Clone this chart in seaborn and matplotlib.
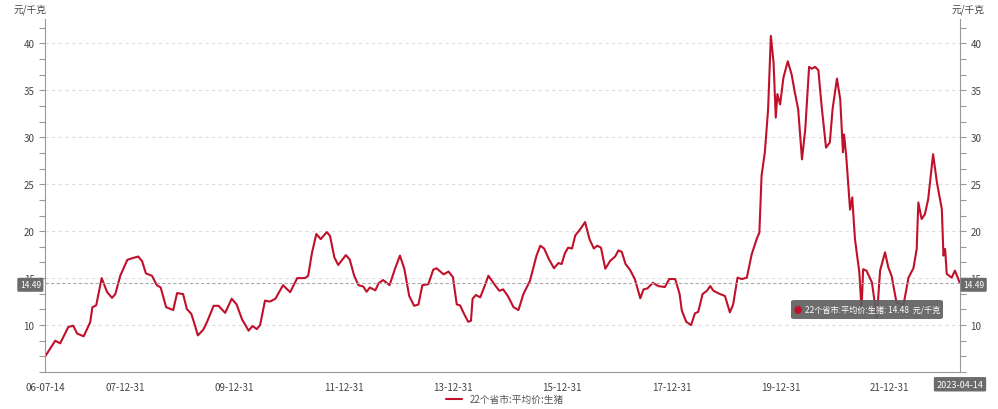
import matplotlib
matplotlib.use("Agg")
import matplotlib.pyplot as plt
import matplotlib.dates as mdates
import matplotlib.transforms as mtransforms
from matplotlib.patches import FancyBboxPatch
from matplotlib.ticker import MultipleLocator
import numpy as np
import pandas as pd
import seaborn as sns

SERIES_NAME = "22个省市:平均价:生猪"
UNIT = "元/千克"
LINE_COLOR = "#c0102a"

years = [
    2006.54, 2006.72, 2006.81, 2006.96, 2007.05, 2007.12, 2007.24, 2007.36, 2007.40, 2007.47,
    2007.57, 2007.67, 2007.76, 2007.82, 2007.91, 2008.04, 2008.12, 2008.24, 2008.31, 2008.38,
    2008.49, 2008.58, 2008.65, 2008.75, 2008.88, 2008.95, 2009.06, 2009.13, 2009.21, 2009.28,
    2009.33, 2009.43, 2009.50, 2009.62, 2009.71, 2009.83, 2009.95, 2010.04, 2010.14, 2010.26,
    2010.33, 2010.41, 2010.47, 2010.56, 2010.65, 2010.75, 2010.89, 2011.02, 2011.15, 2011.29,
    2011.35, 2011.42, 2011.50, 2011.58, 2011.69, 2011.75, 2011.83, 2011.90, 2012.04, 2012.11,
    2012.19, 2012.27, 2012.36, 2012.42, 2012.48, 2012.58, 2012.64, 2012.72, 2012.84, 2012.94,
    2013.03, 2013.11, 2013.20, 2013.29, 2013.37, 2013.44, 2013.55, 2013.64, 2013.70, 2013.83,
    2013.92, 2014.00, 2014.07, 2014.13, 2014.22, 2014.28, 2014.33, 2014.36, 2014.42, 2014.50,
    2014.57, 2014.65, 2014.77, 2014.85, 2014.92, 2015.01, 2015.11, 2015.20, 2015.29, 2015.41,
    2015.53, 2015.60, 2015.67, 2015.75, 2015.85, 2015.93, 2015.99, 2016.05, 2016.11, 2016.18,
    2016.24, 2016.33, 2016.42, 2016.50, 2016.58, 2016.64, 2016.71, 2016.79, 2016.88, 2016.97,
    2017.03, 2017.09, 2017.16, 2017.24, 2017.33, 2017.43, 2017.49, 2017.56, 2017.66, 2017.76,
    2017.88, 2017.96, 2018.07, 2018.15, 2018.19, 2018.27, 2018.36, 2018.43, 2018.49, 2018.57,
    2018.65, 2018.71, 2018.77, 2018.89, 2018.98, 2019.07, 2019.13, 2019.21, 2019.29, 2019.38,
    2019.47, 2019.56, 2019.61, 2019.65, 2019.71, 2019.77, 2019.82, 2019.87, 2019.91, 2019.94,
    2019.99, 2020.05, 2020.13, 2020.20, 2020.26, 2020.32, 2020.39, 2020.45, 2020.52, 2020.57,
    2020.63, 2020.69, 2020.75, 2020.83, 2020.90, 2020.95, 2021.03, 2021.09, 2021.14, 2021.16,
    2021.20, 2021.27, 2021.31, 2021.36, 2021.44, 2021.48, 2021.51, 2021.57, 2021.67, 2021.76,
    2021.82, 2021.91, 2021.97, 2022.03, 2022.12, 2022.25, 2022.34, 2022.43, 2022.49, 2022.52,
    2022.58, 2022.64, 2022.70, 2022.79, 2022.86, 2022.95, 2022.98, 2023.01, 2023.04, 2023.13,
    2023.19, 2023.28,
]
prices = [
    6.7, 8.33, 8.05, 9.8, 9.93, 9.1, 8.8, 10.3, 11.9, 12.1,
    15.0, 13.5, 12.9, 13.3, 15.25, 16.95, 17.1, 17.3, 16.8, 15.5,
    15.25, 14.25, 14.0, 11.9, 11.6, 13.4, 13.3, 11.7, 11.2, 9.93,
    8.9, 9.5, 10.35, 12.05, 12.05, 11.3, 12.8, 12.2, 10.6, 9.4,
    9.9, 9.57, 10.0, 12.6, 12.5, 12.8, 14.25, 13.5, 15.0, 15.0,
    15.25, 17.7, 19.7, 19.15, 19.9, 19.5, 17.2, 16.4, 17.45, 17.0,
    15.3, 14.25, 14.1, 13.55, 14.0, 13.7, 14.45, 14.8, 14.25, 16.0,
    17.4, 16.0, 13.1, 12.05, 12.2, 14.25, 14.35, 15.9, 16.05, 15.4,
    15.7, 15.1, 12.2, 12.1, 11.0, 10.35, 10.45, 12.8, 13.2, 12.95,
    14.0, 15.25, 14.25, 13.65, 13.8, 13.05, 11.9, 11.6, 13.3, 14.7,
    17.4, 18.45, 18.15, 17.1, 16.05, 16.6, 16.5, 17.65, 18.25, 18.15,
    19.55, 20.2, 20.97, 19.15, 18.15, 18.45, 18.25, 16.0, 16.85, 17.3,
    17.95, 17.8, 16.5, 15.9, 14.9, 12.85, 13.8, 13.9, 14.5, 14.15,
    14.05, 14.9, 14.9, 13.3, 11.55, 10.35, 10.0, 11.25, 11.4, 13.3,
    13.65, 14.15, 13.65, 13.3, 13.1, 11.35, 12.2, 15.05, 14.9, 15.05,
    17.55, 19.15, 19.85, 25.9, 28.4, 33.0, 40.8, 37.95, 32.1, 34.6,
    33.5, 36.35, 38.1, 36.7, 34.75, 33.0, 27.65, 30.85, 37.5, 37.3,
    37.5, 37.15, 33.3, 28.9, 29.45, 33.0, 36.25, 34.05, 28.4, 30.3,
    28.0, 22.3, 23.6, 19.15, 15.6, 11.7, 15.95, 15.8, 14.55, 10.8,
    15.8, 17.75, 16.15, 15.25, 12.4, 12.2, 15.05, 16.05, 18.1, 23.05,
    21.3, 21.8, 23.4, 28.2, 25.2, 22.35, 17.4, 18.1, 15.45, 15.05,
    15.8, 14.48,
]

start_label = "06-07-14"
end_label = "2023-04-14"
tick_labels = ["07-12-31", "09-12-31", "11-12-31", "13-12-31", "15-12-31", "17-12-31", "19-12-31", "21-12-31"]
mark_value = 14.49
tooltip_value = 14.48

sns.set_style("white")
plt.rcParams["font.family"] = ["Noto Sans CJK SC", "DejaVu Sans"]
plt.rcParams["axes.unicode_minus"] = False

dates = pd.Timestamp("2008-01-01") + pd.to_timedelta((np.array(years) - 2008.0) * 365.25, unit="D")
df = pd.DataFrame({"date": dates, "price": prices})

fig = plt.figure(figsize=(9.98, 4.10), dpi=100)
ax = fig.add_axes([45 / 998, 1 - 373 / 410, 915 / 998, (373 - 20) / 410])

sns.lineplot(data=df, x="date", y="price", ax=ax, color=LINE_COLOR, linewidth=1.5, label=SERIES_NAME)
ax.get_lines()[0].set_solid_joinstyle("round")

start = pd.Timestamp("2006-07-14")
end = pd.Timestamp("2023-04-14")
ax.set_xlim(start, end)
ax.set_ylim(5, 42.6)

# horizontal grid only
ax.yaxis.set_major_locator(MultipleLocator(5))
ax.yaxis.set_minor_locator(MultipleLocator(5 / 3))
ax.grid(axis="y", which="major", color="#dddddd", linestyle=(0, (3, 3)), linewidth=0.8)
ax.grid(axis="x", visible=False)
yticks = [v for v in range(10, 45, 5)]
ax.set_yticks(yticks)
ax.set_yticklabels([str(v) for v in yticks])

# x ticks: start + every second year end, minor ticks on the other year ends
major_dates = [start] + [pd.Timestamp(f"20{lbl[:2]}-12-31") for lbl in tick_labels]
ax.set_xticks(major_dates)
ax.set_xticklabels([start_label] + tick_labels)
ax.xaxis.set_minor_locator(mdates.YearLocator(1, month=12, day=31))

ax.spines["top"].set_visible(False)
for side in ["left", "right", "bottom"]:
    ax.spines[side].set_color("#999999")
    ax.spines[side].set_linewidth(0.8)

ax.tick_params(axis="both", which="both", colors="#999999", labelcolor="#444444", labelsize=7, width=0.8)
ax.tick_params(axis="y", which="both", left=True, right=True, labelleft=True, labelright=True, length=4)
ax.tick_params(axis="x", which="both", length=4)
ax.set_xlabel("")
ax.set_ylabel("")

# unit labels at the top of both axes
fig.text(30 / 998, 1 - 10 / 410, UNIT, ha="center", va="center", fontsize=7, color="#444444")
fig.text(968 / 998, 1 - 10 / 410, UNIT, ha="center", va="center", fontsize=7, color="#444444")

# latest value marker line and boxes
ax.axhline(mark_value, color="#aaaaaa", linestyle=(0, (3, 2)), linewidth=0.8)
blend = mtransforms.blended_transform_factory(ax.transAxes, ax.transData)
box = dict(boxstyle="round,pad=0.3,rounding_size=0.15", fc="#6b6b6b", ec="none")
ax.text(-0.016, mark_value - 0.2, f"{mark_value:.2f}", transform=blend, ha="center", va="center",
        fontsize=6, color="white", bbox=box, clip_on=False, zorder=10)
ax.text(1.015, mark_value - 0.2, f"{mark_value:.2f}", transform=blend, ha="center", va="center",
        fontsize=6, color="white", bbox=box, clip_on=False, zorder=10)
ax.text(1.0, -0.022, end_label, transform=ax.transAxes, ha="center", va="top",
        fontsize=6.5, color="white", bbox=box, clip_on=False)

# tooltip box
x0, x1, y0, y1 = 791, 943, 301, 320
fig.patches.append(FancyBboxPatch((x0 / 998, 1 - y1 / 410), (x1 - x0) / 998, (y1 - y0) / 410,
                                  boxstyle="round,pad=0,rounding_size=0.004", fc="#5f5f5f", ec="none",
                                  alpha=0.92, transform=fig.transFigure, figure=fig))
ymid = 1 - (y0 + y1) / 2 / 410
fig.text(798 / 998, ymid, "●", color=LINE_COLOR, fontsize=6, ha="center", va="center")
fig.text(805 / 998, ymid, f"{SERIES_NAME}: {tooltip_value:.2f}  {UNIT}", color="white",
         fontsize=5.9, ha="left", va="center")

# legend at the bottom
ax.legend_.remove()
fig.legend(handles=ax.get_lines()[:1], labels=[SERIES_NAME], loc="center",
           bbox_to_anchor=(505 / 998, 1 - 400 / 410), frameon=False, fontsize=7,
           handlelength=1.6, labelcolor="#555555")

fig.savefig("out.png", dpi=100)
